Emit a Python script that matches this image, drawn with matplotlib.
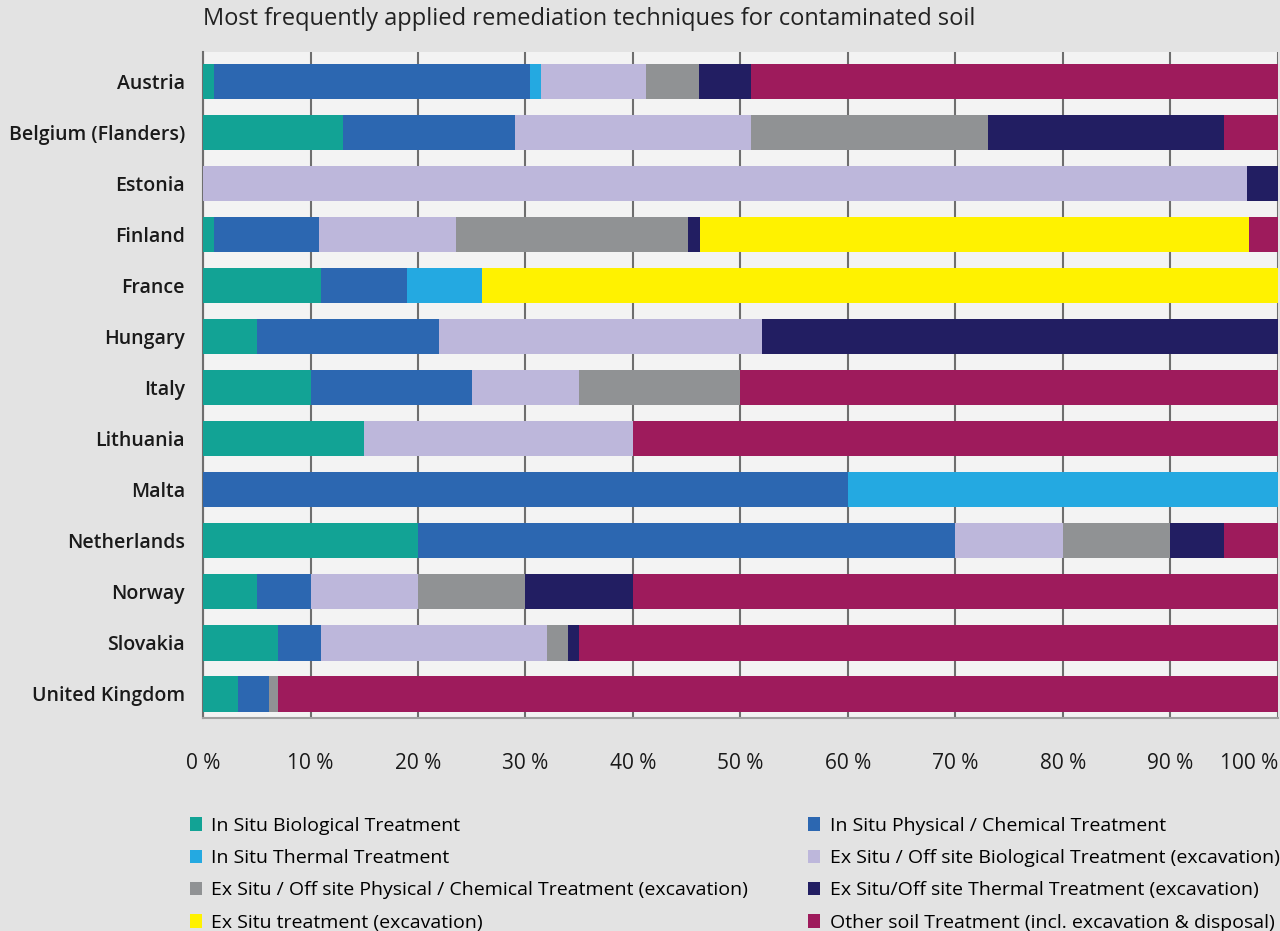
import matplotlib
matplotlib.use("Agg")
import matplotlib.pyplot as plt
import numpy as np

countries = ["Austria", "Belgium (Flanders)", "Estonia", "Finland", "France", "Hungary",
             "Italy", "Lithuania", "Malta", "Netherlands", "Norway", "Slovakia",
             "United Kingdom"]

techniques = [
    "In Situ Biological Treatment",
    "In Situ Physical / Chemical Treatment",
    "In Situ Thermal Treatment",
    "Ex Situ / Off site Biological Treatment (excavation)",
    "Ex Situ / Off site Physical / Chemical Treatment (excavation)",
    "Ex Situ/Off site Thermal Treatment (excavation)",
    "Ex Situ treatment (excavation)",
    "Other soil Treatment (incl. excavation & disposal)",
]

colors = ["#12a395", "#2c67b1", "#24a9e1", "#bdb7db", "#909294", "#221e62", "#fff200", "#9e1b5c"]

# shares (%) per technique, one value per country in the order above
in_situ_bio = [1, 13, 0, 1, 11, 5, 10, 15, 0, 20, 5, 7, 3.3]
in_situ_phys = [29.4, 16, 0, 9.8, 8, 17, 15, 0, 60, 50, 5, 4, 2.8]
in_situ_thermal = [1, 0, 0, 0, 7, 0, 0, 0, 40, 0, 0, 0, 0]
ex_situ_bio = [9.8, 22, 97.1, 12.7, 0, 30, 10, 25, 0, 10, 10, 21, 0]
ex_situ_phys = [4.9, 22, 0, 21.6, 0, 0, 15, 0, 0, 10, 10, 2, 0.9]
ex_situ_thermal = [4.9, 22, 2.9, 1.1, 0, 48, 0, 0, 0, 5, 10, 1, 0]
ex_situ_treatment = [0, 0, 0, 51.1, 74, 0, 0, 0, 0, 0, 0, 0, 0]
other = [49, 5, 0, 2.7, 0, 0, 50, 60, 0, 5, 60, 65, 93]

series = [in_situ_bio, in_situ_phys, in_situ_thermal, ex_situ_bio,
          ex_situ_phys, ex_situ_thermal, ex_situ_treatment, other]

plt.rcParams['font.family'] = ['Open Sans', 'DejaVu Sans']

fig = plt.figure(figsize=(12.8, 9.31), dpi=100, facecolor="#e3e3e3")
ax = fig.add_axes([0.1586, 0.2288, 0.8398, 0.7153])
ax.set_facecolor("#f3f3f3")

y = np.arange(len(countries))
left = np.zeros(len(countries))
handles = []
for name, vals, col in zip(techniques, series, colors):
    vals = np.array(vals, dtype=float)
    b = ax.barh(y, vals, left=left, height=0.69, color=col, label=name, zorder=3)
    handles.append(b)
    left += vals

ax.set_ylim(12.47, -0.57)
ax.set_xlim(0, 100)
ax.set_yticks(y)
ax.set_yticklabels(countries, fontsize=14, color="#1a1a1a", fontweight="semibold")
ax.set_xticks(np.arange(0, 101, 10))
xlabels = ax.set_xticklabels([f"{v} %" for v in range(0, 101, 10)], fontsize=15, color="#1a1a1a")
xlabels[-1].set_horizontalalignment("right")
ax.tick_params(axis="both", length=0)
ax.tick_params(axis="y", pad=13)
ax.tick_params(axis="x", pad=25)
ax.grid(axis="x", color="#6e6e6e", linewidth=1.5, zorder=1)
for s in ["top", "right"]:
    ax.spines[s].set_visible(False)
ax.spines["bottom"].set_color("#a0a0a0")
ax.spines["bottom"].set_linewidth(1.5)
ax.spines["left"].set_color("#6e6e6e")
ax.spines["left"].set_linewidth(1.5)

fig.text(0.1586, 0.980, "Most frequently applied remediation techniques for contaminated soil",
         fontsize=17, color="#222222", va="center", ha="left")

order = [0, 2, 4, 6, 1, 3, 5, 7]
fig.legend([handles[i] for i in order], [techniques[i] for i in order],
           loc="upper left", bbox_to_anchor=(0.1484, 0.1225), ncol=2, frameon=False,
           fontsize=14, handlelength=0.6, handleheight=0.7, handletextpad=0.5,
           columnspacing=3.1, labelspacing=0.73, borderaxespad=0, borderpad=0)

fig.savefig("out.png", dpi=100, facecolor=fig.get_facecolor())
